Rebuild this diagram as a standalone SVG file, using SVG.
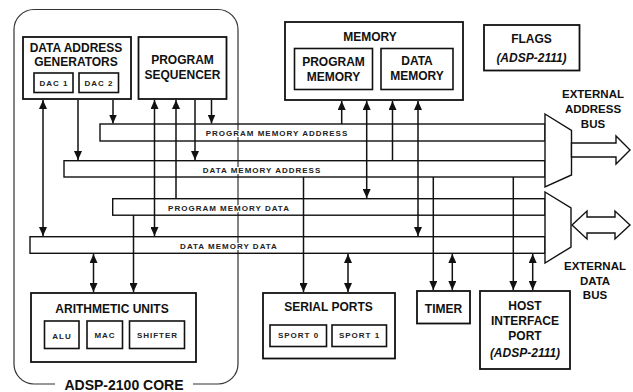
<svg xmlns="http://www.w3.org/2000/svg" width="633" height="392" viewBox="0 0 633 392">
<style>
.bg{fill:#fff}
.box{fill:#fff;stroke:#111;stroke-width:1.8}
.sub{fill:#fff;stroke:#111;stroke-width:1.6}
.bus{fill:none;stroke:#111;stroke-width:1.4}
.mux{fill:#fff;stroke:#111;stroke-width:1.4}
.core{fill:none;stroke:#333;stroke-width:1.2}
.c{fill:none;stroke:#111;stroke-width:1.5}
.t{font-family:"Liberation Sans",Arial,sans-serif;font-weight:bold;font-size:12px;fill:#111;text-anchor:middle}
.ti{font-style:italic}
.s{font-family:"Liberation Sans",Arial,sans-serif;font-weight:bold;font-size:8px;letter-spacing:1px;fill:#222;text-anchor:middle}
.b{font-family:"Liberation Sans",Arial,sans-serif;font-weight:bold;font-size:8px;letter-spacing:1px;fill:#222;text-anchor:middle;stroke:#fff;stroke-width:2px;paint-order:stroke}
</style>
<defs>
<marker id="ah" markerUnits="userSpaceOnUse" markerWidth="9" markerHeight="8" refX="9" refY="4" orient="auto-start-reverse" viewBox="0 0 9 8">
<path d="M0,0 L9,4 L0,8 z" fill="#111"/>
</marker>
</defs>
<rect class="bg" x="0" y="0" width="633" height="392"/>

<g id="core">
<path class="core" d="M55,384 H34 A20 20 0 0 1 14 364 V29.5 A20 20 0 0 1 34 9.5 H218 A20 20 0 0 1 238 29.5 V364 A20 20 0 0 1 218 384 H193"/>
<text class="t" x="124" y="390" style="font-size:14px">ADSP-2100 CORE</text>
</g>

<g id="buses">
<g id="pma"><rect class="bus" x="100" y="124" width="445" height="17"/><text class="b" x="277" y="136">PROGRAM MEMORY ADDRESS</text></g>
<g id="dma"><rect class="bus" x="64" y="160.7" width="481" height="16.3"/><text class="b" x="262" y="173">DATA MEMORY ADDRESS</text></g>
<g id="pmd"><rect class="bus" x="112.7" y="198.7" width="432.3" height="16.5"/><text class="b" x="229" y="211">PROGRAM MEMORY DATA</text></g>
<g id="dmd"><rect class="bus" x="30" y="236.7" width="515" height="16.6"/><text class="b" x="229" y="248.5">DATA MEMORY DATA</text></g>
</g>

<g id="dag">
<rect class="box" x="23" y="37" width="108" height="62"/>
<text class="t" x="76" y="52">DATA ADDRESS</text>
<text class="t" x="76" y="66">GENERATORS</text>
<rect class="sub" x="34" y="73" width="39" height="19.5"/>
<text class="s" x="54" y="85.5">DAC 1</text>
<rect class="sub" x="79" y="73" width="39.5" height="19.5"/>
<text class="s" x="99" y="85.5">DAC 2</text>
</g>

<g id="ps">
<rect class="box" x="138.5" y="37" width="88" height="62"/>
<text class="t" x="182.5" y="64">PROGRAM</text>
<text class="t" x="182.5" y="79">SEQUENCER</text>
</g>

<g id="memory">
<rect class="box" x="285" y="22" width="178" height="78"/>
<text class="t" x="370" y="41">MEMORY</text>
<rect class="sub" x="294.5" y="48.5" width="78" height="41"/>
<text class="t" x="333.5" y="66">PROGRAM</text>
<text class="t" x="333.5" y="81">MEMORY</text>
<rect class="sub" x="381" y="48.5" width="72" height="41"/>
<text class="t" x="417" y="65">DATA</text>
<text class="t" x="417" y="80">MEMORY</text>
</g>

<g id="flags">
<rect class="box" x="484" y="25" width="95.5" height="45.5"/>
<text class="t" x="531.5" y="43">FLAGS</text>
<text class="t ti" x="531.5" y="62">(ADSP-2111)</text>
</g>

<g id="au">
<rect class="box" x="31" y="293" width="165" height="69"/>
<text class="t" x="112" y="312.5">ARITHMETIC UNITS</text>
<rect class="sub" x="44.5" y="321" width="34.5" height="27.5"/>
<text class="s" x="62" y="339">ALU</text>
<rect class="sub" x="87" y="321" width="35.5" height="27.5"/>
<text class="s" x="105" y="337.5">MAC</text>
<rect class="sub" x="129.5" y="321" width="55" height="27.5"/>
<text class="s" x="157.5" y="337.5">SHIFTER</text>
</g>

<g id="sp">
<rect class="box" x="263" y="293" width="132" height="65.5"/>
<text class="t" x="328.5" y="311">SERIAL PORTS</text>
<rect class="sub" x="270" y="325" width="56.5" height="21.5"/>
<text class="s" x="298.5" y="338">SPORT 0</text>
<rect class="sub" x="332" y="325" width="54.5" height="21.5"/>
<text class="s" x="359.5" y="338">SPORT 1</text>
</g>

<g id="timer">
<rect class="box" x="417" y="291" width="53" height="32.5"/>
<text class="t" x="443.5" y="312.5">TIMER</text>
</g>

<g id="hip">
<rect class="box" x="480" y="291" width="90" height="78"/>
<text class="t" x="525" y="310">HOST</text>
<text class="t" x="525" y="324.5">INTERFACE</text>
<text class="t" x="525" y="339.5">PORT</text>
<text class="t ti" x="525" y="357">(ADSP-2111)</text>
</g>

<g id="ext-address">
<polygon class="mux" points="545,114 571.5,130.5 571.5,175 545,187"/>
<polygon class="mux" points="571.5,143 616,143 616,136 630,150 616,164 616,157 571.5,157"/>
<text class="t" x="593" y="98" style="font-size:11.5px">EXTERNAL</text>
<text class="t" x="593" y="113" style="font-size:11.5px">ADDRESS</text>
<text class="t" x="593" y="127.5" style="font-size:11.5px">BUS</text>
</g>

<g id="ext-data">
<polygon class="mux" points="545,192 571,208 571,247 545,263"/>
<polygon class="mux" points="572,225 587,211 587,217 615,217 615,211 630,225 615,239 615,233 587,233 587,239"/>
<text class="t" x="595" y="270" style="font-size:11.5px">EXTERNAL</text>
<text class="t" x="595" y="285" style="font-size:11.5px">DATA</text>
<text class="t" x="595" y="299" style="font-size:11.5px">BUS</text>
</g>

<g id="connectors">
<line class="c" x1="43" y1="100" x2="43" y2="236" marker-start="url(#ah)" marker-end="url(#ah)"/>
<line class="c" x1="78" y1="100" x2="78" y2="160" marker-end="url(#ah)"/>
<line class="c" x1="113" y1="100" x2="113" y2="123.5" marker-end="url(#ah)"/>
<line class="c" x1="154.5" y1="100" x2="154.5" y2="236" marker-start="url(#ah)" marker-end="url(#ah)"/>
<line class="c" x1="176" y1="198.7" x2="176" y2="100" marker-end="url(#ah)"/>
<line class="c" x1="195" y1="100" x2="195" y2="160" marker-end="url(#ah)"/>
<line class="c" x1="211.5" y1="100" x2="211.5" y2="123.5" marker-end="url(#ah)"/>
<line class="c" x1="133.5" y1="215.2" x2="133.5" y2="292" marker-end="url(#ah)"/>
<line class="c" x1="93.5" y1="254" x2="93.5" y2="292" marker-start="url(#ah)" marker-end="url(#ah)"/>
<line class="c" x1="341.7" y1="124" x2="341.7" y2="101" marker-end="url(#ah)"/>
<line class="c" x1="366.7" y1="101" x2="366.7" y2="198" marker-start="url(#ah)" marker-end="url(#ah)"/>
<line class="c" x1="392.5" y1="160.7" x2="392.5" y2="101" marker-end="url(#ah)"/>
<line class="c" x1="418" y1="101" x2="418" y2="236" marker-start="url(#ah)" marker-end="url(#ah)"/>
<line class="c" x1="303.5" y1="177" x2="303.5" y2="292" marker-end="url(#ah)"/>
<line class="c" x1="348" y1="254" x2="348" y2="292" marker-start="url(#ah)" marker-end="url(#ah)"/>
<line class="c" x1="433.3" y1="177" x2="433.3" y2="290" marker-end="url(#ah)"/>
<line class="c" x1="452.3" y1="254" x2="452.3" y2="290" marker-start="url(#ah)" marker-end="url(#ah)"/>
<line class="c" x1="513.3" y1="177" x2="513.3" y2="290" marker-end="url(#ah)"/>
<line class="c" x1="532.7" y1="254" x2="532.7" y2="290" marker-start="url(#ah)" marker-end="url(#ah)"/>
</g>
</svg>
